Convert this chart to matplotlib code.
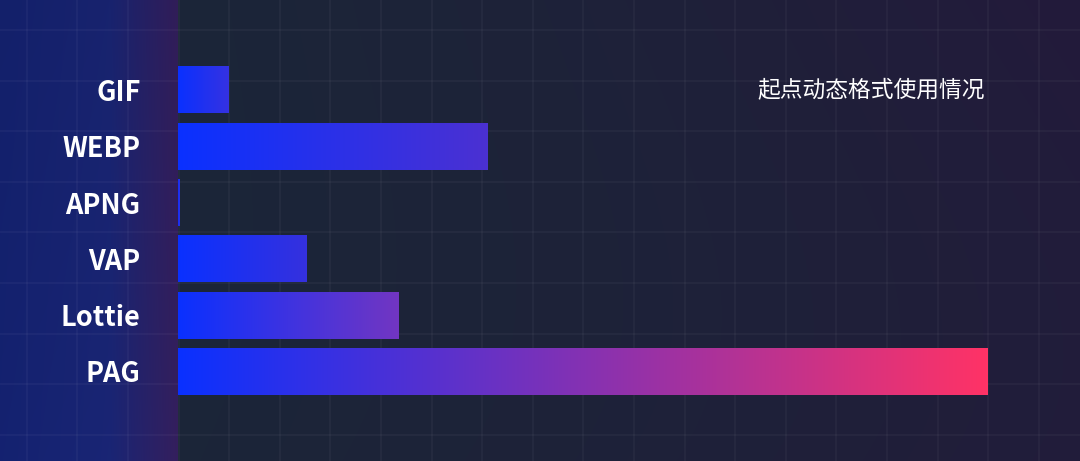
import numpy as np
import matplotlib
matplotlib.use("Agg")
import matplotlib.pyplot as plt
from matplotlib.colors import to_rgb

# ---- data ----
categories = ["GIF", "WEBP", "APNG", "VAP", "Lottie", "PAG"]
values = [1.0, 6.12, 0.02, 2.53, 4.35, 16.0]
title = "起点动态格式使用情况"

# ---- style ----
W, H, DPI = 1080, 461, 100
bar_start = "#0a30ff"
bar_ends = ["#3532e2", "#4b31d2", "#3531e0", "#3531de", "#7236c2", "#ff3366"]

fig = plt.figure(figsize=(W / DPI, H / DPI), dpi=DPI)

# background axes in pixel coordinates
bg = fig.add_axes([0, 0, 1, 1])
bg.set_xlim(0, W)
bg.set_ylim(H, 0)
bg.axis("off")

xx, yy = np.meshgrid(np.arange(W) + 0.5, np.arange(H) + 0.5)
base = np.array(to_rgb("#1b2638"))
purple = np.array(to_rgb("#231a3b"))
fx = xx / W
fy = yy / H
t = np.clip(fx ** 1.6 * (0.55 + 0.45 * (1 - fy)) + 0.25 * fx * fy ** 3, 0, 1)
img = base[None, None, :] * (1 - t[..., None]) + purple[None, None, :] * t[..., None]

# left panel
stops_x = np.array([0, 110, 178])
stops_c = np.array([to_rgb("#13206a"), to_rgb("#18236e"), to_rgb("#311d58")])
left = xx < 178
for ch in range(3):
    col = np.interp(xx, stops_x, stops_c[:, ch])
    col = col * (1 + 0.06 * fy)
    img[..., ch] = np.where(left, col, img[..., ch])
img = np.clip(img, 0, 1)
bg.imshow(img, extent=[0, W, H, 0], aspect="auto", interpolation="bilinear", zorder=0)

grid_x = 26.7 + 50.6 * np.arange(21)
grid_y = 30.0 + 50.6 * np.arange(9)
for gx in grid_x:
    bg.axvline(gx, color="#ffffff", alpha=0.045, lw=1.2, zorder=1)
for gy in grid_y:
    bg.axhline(gy, color="#ffffff", alpha=0.045, lw=1.2, zorder=1)

# main axes
x0 = 178
unit = 50.6
ax = fig.add_axes([x0 / W, 0, (W - x0) / W, 1])
ax.patch.set_alpha(0)
for s in ax.spines.values():
    s.set_visible(False)
row = 56.27
ypos = np.arange(len(categories))
ylim = ((H - 90) / row, -90 / row)
xlim = (0, (W - x0) / unit)

bars = ax.barh(ypos, values, height=47 / row, color="none", edgecolor="none")
for b, end in zip(bars, bar_ends):
    c0 = np.array(to_rgb(bar_start))
    c1 = np.array(to_rgb(end))
    g = np.linspace(0, 1, 256)[None, :, None]
    grad = c0[None, None, :] * (1 - g) + c1[None, None, :] * g
    bx, by, bw, bh = b.get_x(), b.get_y(), b.get_width(), b.get_height()
    im = ax.imshow(grad, extent=[bx, bx + bw, by + bh, by], aspect="auto",
                   interpolation="bilinear", zorder=2)
    im.set_clip_path(b)

ax.set_xlim(*xlim)
ax.set_ylim(*ylim)
ax.set_xticks([])
ax.set_yticks(ypos)
ax.set_yticklabels(categories, fontsize=19.5, fontweight="bold", color="white",
                   family=["Noto Sans CJK SC", "DejaVu Sans"])
ax.tick_params(axis="y", length=0, pad=27)

fig.text(757 / W, 1 - 90 / H, title, ha="left", va="center", color="white",
         fontsize=16.4, family=["Noto Sans CJK SC", "DejaVu Sans"])

fig.savefig("out.png", dpi=DPI)
